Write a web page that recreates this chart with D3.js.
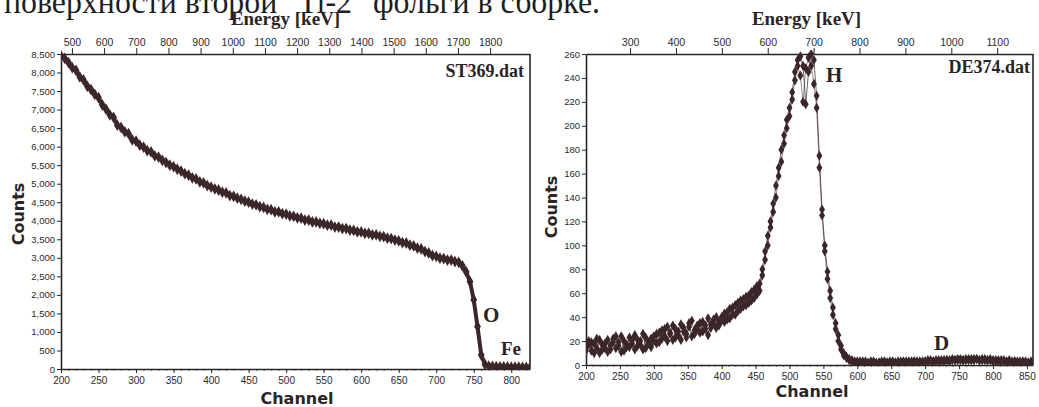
<!DOCTYPE html>
<html><head><meta charset="utf-8">
<script src="https://cdn.jsdelivr.net/npm/d3@7"></script>
<style>
html,body{margin:0;padding:0;background:#fff;}
svg{display:block;}
.tick text{font-family:"Liberation Sans Narrow","Liberation Sans",Arial,sans-serif;font-size:10px;fill:#2a2a2a;}
</style></head>
<body>
<svg id="c" width="1039" height="407"></svg>
<script>
// ---------- DATA ----------
const headingText = 'поверхности второй "Ti-2" фольги в сборке.';
const leftFile = "ST369.dat";
const rightFile = "DE374.dat";

const leftChannels = d3.range(200, 830, 5);
const leftCounts = [
  8450, 8380, 8270, 8130, 8060, 7880, 7800, 7630, 7540, 7410, 7320, 7130, 7010, 6860, 6790, 6580, 6520, 6400, 6350, 6180, 6150,
  6040, 5990, 5890, 5860, 5750, 5720, 5630, 5570, 5500, 5460,
  5390, 5340, 5270, 5230, 5160, 5130, 5050, 5020, 4950, 4910,
  4860, 4830, 4770, 4750, 4680, 4660, 4610, 4580, 4530, 4500,
  4450, 4430, 4380, 4360, 4310, 4300, 4240, 4240, 4190, 4180,
  4130, 4120, 4080, 4070, 4020, 4020, 3970, 3970, 3930, 3920,
  3880, 3880, 3830, 3830, 3790, 3790, 3750, 3740, 3700, 3700,
  3660, 3660, 3620, 3620, 3580, 3570, 3530, 3520, 3480, 3460,
  3410, 3400, 3340, 3320, 3260, 3240, 3170, 3130, 3060, 3040,
  2990, 2980, 2940, 2940, 2900, 2880, 2780, 2620, 2360, 1870,
  1150, 380, 120, 80, 70, 66, 60, 58, 55, 52,
  50, 48, 45, 42, 40
];

const rightChannels = d3.range(200, 860, 4);
const rightSeriesA = [
  15,20,12,18,22, 10,17,14,21,13, 19,24,16,11,20, 15,23,18,13,21, 17,26,14,19,22,
  24,18,27,22,30, 20,26,33,23,28, 21,31,26,35,24, 29,33,27,36,30, 25,34,38,31,36,
  40,36,44,39,48, 42,52,47,55,50, 58,54,63,59,68,
  80,95,108,120,135, 150,165,180,192,205,
  215,228,245,255,258, 250,218,245,260,255,
  225,175,130,100,78, 62,48,35,25,16, 10,7,5,4,3,
  3,2,3,2,2, 3,2,1,2,3, 2,2,3,2,2, 3,2,3,2,2, 3,3,2,3,2, 3,3,4,3,3, 4,3,4,4,3,
  4,4,5,4,4, 5,4,5,4,5, 4,4,5,4,4, 3,4,3,3,4, 3,3,2,3,3, 2,3,2,2,3
];
const rightSeriesB = [
  12,17,19,10,14, 21,13,18,11,16, 22,14,19,24,12, 17,15,21,25,16, 20,13,23,18,15,
  20,26,19,29,24, 32,27,21,30,25, 34,28,23,32,37, 26,30,35,28,33, 39,31,35,40,33,
  37,43,38,47,42, 50,45,54,49,57, 52,61,56,66,62,
  75,88,100,115,128, 140,158,170,185,198,
  208,222,238,250,242, 220,248,257,250,235,
  215,165,125,95,72, 56,42,30,20,13, 8,6,4,3,2,
  2,3,2,3,1, 2,3,2,2,1, 3,2,2,3,2, 2,3,2,3,3, 2,3,3,2,3, 3,4,3,3,4, 3,4,3,4,4,
  5,4,4,5,4, 4,5,4,5,5, 4,5,4,4,5, 4,3,4,4,3, 3,4,3,3,2, 3,2,3,2,2
];

const leftXTicks = [200,250,300,350,400,450,500,550,600,650,700,750,800];
const rightXTicks = [200,250,300,350,400,450,500,550,600,650,700,750,800,850];
const leftEnergyTicks = [500,600,700,800,900,1000,1100,1200,1300,1400,1500,1600,1700,1800];
const rightEnergyTicks = [300,400,500,600,700,800,900,1000,1100];
const leftYTicks = [0,500,1000,1500,2000,2500,3000,3500,4000,4500,5000,5500,6000,6500,7000,7500,8000,8500];
const rightYTicks = [0,20,40,60,80,100,120,140,160,180,200,220,240,260];

// ---------- DRAW ----------
const svg = d3.select("#c");
const ink = "#2b2424";
const dataCol = "#3b2729";

svg.append("text").text(headingText)
  .attr("x", 4).attr("y", 13)
  .attr("textLength", 596).attr("lengthAdjust", "spacingAndGlyphs")
  .style("font-family", "'Liberation Serif','Times New Roman',serif")
  .style("font-size", "34px").style("fill", "#1e1e1e");

function panel(cfg) {
  const g = svg.append("g");
  const x = d3.scaleLinear().domain(cfg.xDomain).range([cfg.left, cfg.right]);
  const y = d3.scaleLinear().domain(cfg.yDomain).range([cfg.bottom, cfg.top]);
  const e = d3.scaleLinear().domain(cfg.eDomain).range([cfg.left, cfg.right]);

  // minor ticks bottom
  g.append("g").attr("transform", `translate(0,${cfg.bottom})`)
    .call(d3.axisBottom(x).tickValues(d3.range(cfg.xDomain[0], cfg.xDomain[1], 10)).tickSize(2).tickFormat(""))
    .call(s => s.select(".domain").remove())
    .call(s => s.selectAll("line").attr("stroke", "#777"));

  const bx = g.append("g").attr("transform", `translate(0,${cfg.bottom})`)
    .call(d3.axisBottom(x).tickValues(cfg.xTicks).tickSize(4).tickSizeOuter(0).tickPadding(4));
  const tx = g.append("g").attr("transform", `translate(0,${cfg.top})`)
    .call(d3.axisTop(e).tickValues(cfg.eTicks).tickSize(6).tickSizeOuter(0).tickPadding(2)
      .tickFormat(d3.format("d")));
  tx.selectAll("text").style("font-size", "10.5px");
  const ly = g.append("g").attr("transform", `translate(${cfg.left},0)`)
    .call(d3.axisLeft(y).tickValues(cfg.yTicks).tickSize(4).tickSizeOuter(0).tickPadding(2)
      .tickFormat(d3.format(",")));
  ly.selectAll("text").style("font-size", "9.5px");
  [bx, tx, ly].forEach(a => {
    a.select(".domain").attr("stroke", ink).attr("stroke-width", 1.6);
    a.selectAll(".tick line").attr("stroke", ink);
  });
  // right border
  g.append("line").attr("x1", cfg.right).attr("x2", cfg.right)
    .attr("y1", cfg.top).attr("y2", cfg.bottom).attr("stroke", ink).attr("stroke-width", 1.6);

  // titles
  g.append("text").text("Energy [keV]")
    .attr("x", (cfg.left + cfg.right) / 2 + cfg.eTitleDx).attr("y", 25).attr("text-anchor", "middle")
    .style("font-family", "'Liberation Serif','Times New Roman',serif").style("font-weight", "bold")
    .style("font-size", "19px").style("fill", ink);
  g.append("text").text("Channel")
    .attr("x", cfg.chX).attr("y", cfg.chY).attr("text-anchor", "middle")
    .style("font-family", "'DejaVu Sans',sans-serif").style("font-weight", "bold")
    .style("font-size", "16px").style("fill", ink);
  g.append("text").text("Counts")
    .attr("transform", `translate(${cfg.cX},${cfg.cY}) rotate(-90)`).attr("text-anchor", "middle")
    .style("font-family", "'DejaVu Sans',sans-serif").style("font-weight", "bold")
    .style("font-size", "16px").style("fill", ink);

  const clip = "clip" + cfg.id;
  svg.append("clipPath").attr("id", clip).append("rect")
    .attr("x", cfg.left).attr("y", cfg.top - 4).attr("width", cfg.right - cfg.left).attr("height", cfg.bottom - cfg.top + 4);
  const dg = g.append("g").attr("clip-path", `url(#${clip})`);
  cfg.series.forEach(sr => {
    const pts = cfg.channels.map((c, i) => [c, sr.values[i]]);
    dg.append("path").datum(pts)
      .attr("d", d3.line().x(d => x(d[0])).y(d => y(d[1])))
      .attr("fill", "none").attr("stroke", dataCol).attr("stroke-width", sr.lw).attr("opacity", sr.lo);
    dg.selectAll(null).data(pts).enter().append("path")
      .attr("d", d3.symbol(d3.symbolDiamond, sr.ms))
      .attr("transform", d => `translate(${x(d[0])},${y(d[1])})`)
      .attr("fill", dataCol);
  });

  cfg.labels.forEach(l => {
    g.append("text").text(l.t).attr("x", l.x).attr("y", l.y)
      .attr("text-anchor", l.a || "start")
      .style("font-family", "'Liberation Serif','Times New Roman',serif").style("font-weight", "bold")
      .style("font-size", l.s + "px").style("fill", ink);
  });
}

panel({
  id: "L", left: 61, right: 530, top: 54, bottom: 369,
  xDomain: [200, 825], yDomain: [0, 8500], eDomain: [466, 1924],
  xTicks: leftXTicks, yTicks: leftYTicks, eTicks: leftEnergyTicks,
  eTitleDx: -10, chX: 297, chY: 404, cX: 24, cY: 214,
  channels: leftChannels,
  series: [{ values: leftCounts, lw: 4, lo: 1, ms: 40 }],
  labels: [
    { t: leftFile, x: 524, y: 77, s: 18, a: "end" },
    { t: "O", x: 483, y: 322, s: 21 },
    { t: "Fe", x: 501, y: 355, s: 19 }
  ]
});

panel({
  id: "R", left: 586, right: 1033, top: 54, bottom: 365,
  xDomain: [200, 859], yDomain: [0, 260], eDomain: [204, 1178],
  xTicks: rightXTicks, yTicks: rightYTicks, eTicks: rightEnergyTicks,
  eTitleDx: -3, chX: 812, chY: 397, cX: 557, cY: 207,
  channels: rightChannels,
  series: [
    { values: rightSeriesA, lw: 0.9, lo: 0.8, ms: 30 },
    { values: rightSeriesB, lw: 0.9, lo: 0.6, ms: 30 }
  ],
  labels: [
    { t: rightFile, x: 1030, y: 73, s: 18, a: "end" },
    { t: "H", x: 826, y: 82, s: 21 },
    { t: "D", x: 934, y: 350, s: 21 }
  ]
});
</script>
</body></html>
